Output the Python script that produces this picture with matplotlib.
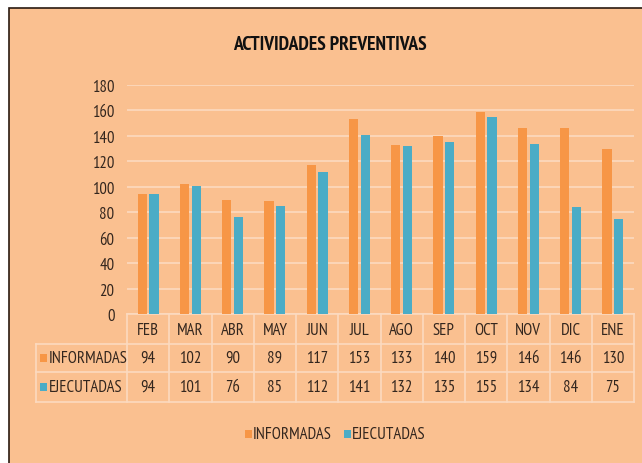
import matplotlib
matplotlib.use("Agg")
from matplotlib import pyplot as plt
from matplotlib.patches import Rectangle
import numpy as np

months = ['FEB', 'MAR', 'ABR', 'MAY', 'JUN', 'JUL', 'AGO', 'SEP', 'OCT', 'NOV', 'DIC', 'ENE']
informadas = [94, 102, 90, 89, 117, 153, 133, 140, 159, 146, 146, 130]
ejecutadas = [94, 101, 76, 85, 112, 141, 132, 135, 155, 134, 84, 75]
series_names = ['INFORMADAS', 'EJECUTADAS']

bg = '#FAC090'
c_inf = '#F79646'
c_eje = '#4BACC6'
grid_c = '#FCDAC0'
txt_c = '#33261E'

plt.rcParams['font.family'] = ['PT Sans Narrow', 'Roboto Condensed', 'DejaVu Sans']

W, H = 642, 464
fig = plt.figure(figsize=(W / 100, H / 100), dpi=100)
fig.patch.set_facecolor('white')

# chart area with dark border on top/left
fig.patches.append(Rectangle((9 / W, -0.05), 1.1, 1.05 - 9 / H, transform=fig.transFigure,
                             facecolor=bg, edgecolor='#2a1a10', lw=1.2, zorder=-5))

left, right, top, bottom = 127, 634, 86, 315
ax = fig.add_axes([left / W, 1 - bottom / H, (right - left) / W, (bottom - top) / H])
ax.set_facecolor('none')
ax.set_zorder(2)

x = np.arange(len(months))
bw = 0.22
ax.bar(x - 0.14, informadas, bw, color=c_inf, zorder=3)
ax.bar(x + 0.14, ejecutadas, bw, color=c_eje, zorder=3)

ax.set_xlim(-0.5, len(months) - 0.5)
ax.set_ylim(0, 180)
ax.set_yticks(range(0, 181, 20))
ax.tick_params(axis='y', length=0, labelsize=12, labelcolor=txt_c, pad=9)
ax.set_xticks([])
ax.yaxis.grid(True, color=grid_c, lw=1.2, zorder=0)
ax.set_axisbelow(True)
for s in ax.spines.values():
    s.set_visible(False)

# data table under the axis
def fy(py):
    return 1 - py / H

def fx(px):
    return px / W

col_w = (right - left) / len(months)
rows = [315, 345, 373, 403]
lab_left = 36
for py in rows:
    x0 = left if py == 315 else lab_left
    fig.add_artist(plt.Line2D([fx(x0), fx(right)], [fy(py), fy(py)], color=grid_c, lw=1.2))
for i in range(len(months) + 1):
    px = left + i * col_w
    fig.add_artist(plt.Line2D([fx(px), fx(px)], [fy(315), fy(403)], color=grid_c, lw=1.2))
fig.add_artist(plt.Line2D([fx(lab_left), fx(lab_left)], [fy(345), fy(403)], color=grid_c, lw=1.2))

for i, m in enumerate(months):
    cx = fx(left + (i + 0.5) * col_w)
    fig.text(cx, fy(331), m, ha='center', va='center', fontsize=12, color=txt_c)
    fig.text(cx, fy(359), str(informadas[i]), ha='center', va='center', fontsize=12, color=txt_c)
    fig.text(cx, fy(388), str(ejecutadas[i]), ha='center', va='center', fontsize=12, color=txt_c)

for py, name, c in [(359, series_names[0], c_inf), (388, series_names[1], c_eje)]:
    fig.patches.append(Rectangle((fx(40), fy(py + 4)), 7 / W, 8 / H, transform=fig.transFigure,
                                 facecolor=c, edgecolor='none'))
    fig.text(fx(49), fy(py), name, ha='left', va='center', fontsize=12, color=txt_c)

# legend
for px, name, c in [(245, series_names[0], c_inf), (344, series_names[1], c_eje)]:
    fig.patches.append(Rectangle((fx(px), fy(439)), 7 / W, 8 / H, transform=fig.transFigure,
                                 facecolor=c, edgecolor='none'))
    fig.text(fx(px + 8), fy(435), name, ha='left', va='center', fontsize=12, color=txt_c)

fig.text(fx(330), fy(45), 'ACTIVIDADES PREVENTIVAS', ha='center', va='center',
         fontsize=14, fontweight='bold', color='#111111')

fig.savefig('out.png', dpi=100, facecolor=fig.get_facecolor())
